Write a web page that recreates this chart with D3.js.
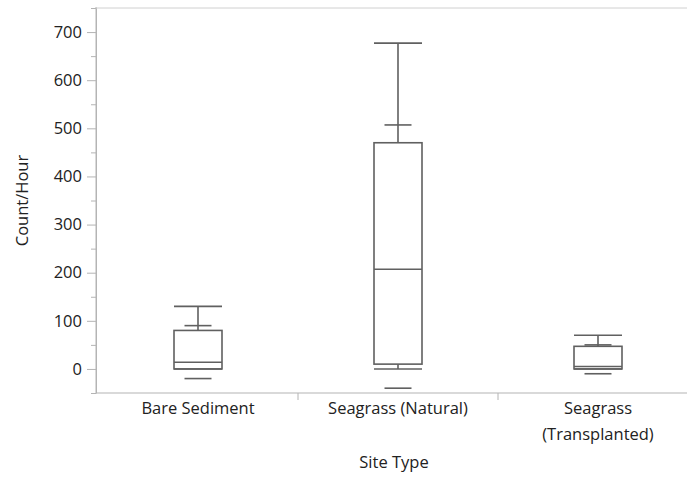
<!DOCTYPE html>
<html><head><meta charset="utf-8">
<script src="https://cdn.jsdelivr.net/npm/d3@7"></script>
<style>body{margin:0;background:#fff}svg{display:block}text{font-family:"Open Sans",sans-serif;fill:#222}</style>
</head><body><svg id="c" width="687" height="478"></svg>
<script>
const categories = ["Bare Sediment", "Seagrass (Natural)", "Seagrass (Transplanted)"];
const labelLines = [["Bare Sediment"], ["Seagrass (Natural)"], ["Seagrass", "(Transplanted)"]];
const q1 = [0, 10, 0];
const median = [14, 207, 5];
const q3 = [80, 470, 47];
const whiskerLow = [0, 0, 0];
const whiskerHigh = [130, 677, 70];
const upperMark = [90, 507, 50];
const lowerMark = [-20, -40, -10];
const yTicks = [0, 100, 200, 300, 400, 500, 600, 700];
const yMinor = [-50, 50, 150, 250, 350, 450, 550, 650, 750];

const svg = d3.select("#c");
const L = 96, R = 698, T = 8, B = 393;
const FS = 16.5;
const y = d3.scaleLinear().domain([-50, 750]).range([B, T]);
const x = d3.scaleBand().domain(categories).range([L + 2, R]).padding(0);
const boxW = 48, markW = 27;
const ink = "#606060", axisC = "#b4b4b4";

// frame
svg.append("line").attr("x1", L).attr("x2", 687).attr("y1", T).attr("y2", T).attr("stroke", "#d0d0d0");
const ya = svg.append("g").attr("transform", `translate(${L},0)`)
  .call(d3.axisLeft(y).tickValues(yTicks).tickSize(9).tickPadding(5).tickSizeOuter(0));
ya.select(".domain").attr("stroke", axisC);
ya.selectAll(".tick line").attr("stroke", axisC);
ya.selectAll(".tick text").attr("font-size", FS).attr("fill", "#222").attr("font-family", '"Open Sans",sans-serif');
svg.append("g").attr("transform", `translate(${L},0)`)
  .call(d3.axisLeft(y).tickValues(yMinor).tickSize(5).tickFormat("").tickSizeOuter(0))
  .call(g => { g.select(".domain").remove(); g.selectAll("line").attr("stroke", axisC); });
svg.append("line").attr("x1", L).attr("x2", L).attr("y1", T - 1).attr("y2", B).attr("stroke", axisC);
svg.append("line").attr("x1", L).attr("x2", 687).attr("y1", B).attr("y2", B).attr("stroke", axisC).attr("stroke-width", 1.2);
// category dividers
categories.slice(1).forEach(c => {
  svg.append("line").attr("x1", x(c)).attr("x2", x(c)).attr("y1", B).attr("y2", B + 7).attr("stroke", axisC);
});
// category labels
categories.forEach((c, i) => {
  const t = svg.append("text").attr("text-anchor", "middle").attr("font-size", FS)
    .attr("x", x(c) + x.bandwidth() / 2).attr("y", 414);
  labelLines[i].forEach((s, j) => t.append("tspan").attr("x", x(c) + x.bandwidth() / 2).attr("dy", j ? 26 : 0).text(s));
});
svg.append("text").attr("text-anchor", "middle").attr("font-size", FS).attr("x", (L + R) / 2 - 3).attr("y", 468).text("Site Type");
svg.append("text").attr("text-anchor", "middle").attr("font-size", FS)
  .attr("transform", `translate(28,${(T + B) / 2}) rotate(-90)`).text("Count/Hour");

// boxes
const g = svg.append("g").attr("stroke", ink).attr("stroke-width", 1.6).attr("fill", "none");
categories.forEach((c, i) => {
  const cx = x(c) + x.bandwidth() / 2;
  g.append("line").attr("x1", cx).attr("x2", cx).attr("y1", y(q3[i])).attr("y2", y(whiskerHigh[i]));
  g.append("line").attr("x1", cx).attr("x2", cx).attr("y1", y(q1[i])).attr("y2", y(whiskerLow[i]));
  g.append("line").attr("x1", cx - boxW / 2).attr("x2", cx + boxW / 2).attr("y1", y(whiskerHigh[i])).attr("y2", y(whiskerHigh[i]));
  g.append("line").attr("x1", cx - boxW / 2).attr("x2", cx + boxW / 2).attr("y1", y(whiskerLow[i])).attr("y2", y(whiskerLow[i]));
  g.append("rect").attr("x", cx - boxW / 2).attr("width", boxW).attr("y", y(q3[i])).attr("height", y(q1[i]) - y(q3[i]));
  g.append("line").attr("x1", cx - boxW / 2).attr("x2", cx + boxW / 2).attr("y1", y(median[i])).attr("y2", y(median[i]));
  g.append("line").attr("x1", cx - markW / 2).attr("x2", cx + markW / 2).attr("y1", y(upperMark[i])).attr("y2", y(upperMark[i]));
  g.append("line").attr("x1", cx - markW / 2).attr("x2", cx + markW / 2).attr("y1", y(lowerMark[i])).attr("y2", y(lowerMark[i]));
});
</script></body></html>
